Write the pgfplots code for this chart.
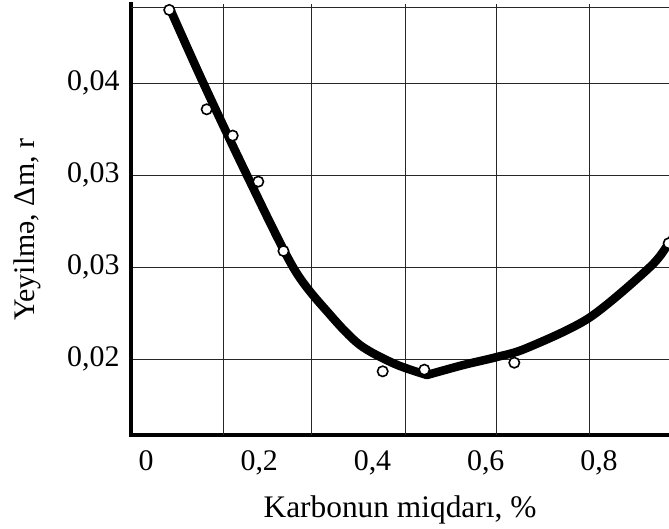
\documentclass[border=0pt]{standalone}
\usepackage{fontspec}
\setmainfont{Liberation Serif}
\usepackage{pgfplots}
\pgfplotsset{compat=1.18}

\begin{document}
\begin{tikzpicture}
\begin{axis}[
  scale only axis, width=538bp, height=431bp,
  xmin=-0.02649, xmax=0.92362, ymin=0.02087, ymax=0.044293,
  axis lines=left,
  axis line style={-, line width=4bp, line cap=rect},
  scaled y ticks=false, scaled x ticks=false,
  xtick={0,0.2,0.4,0.6,0.8}, xticklabels={0,{0,2},{0,4},{0,6},{0,8}},
  ytick={0.025,0.03,0.035,0.04}, yticklabels={{0,02},{0,03},{0,03},{0,04}},
  major tick length=0pt,
  ymajorgrids=true, xmajorgrids=false,
  extra x ticks={0.1360,0.2914,0.4574,0.6181,0.7823},
  extra x tick style={xmajorgrids=true, xticklabel={}},
  extra y ticks={0.04413},
  extra y tick style={yticklabel={}},
  grid style={black!85, line width=0.9bp},
  tick label style={font=\fontsize{30}{36}\selectfont},
  xticklabel style={anchor=base, yshift=-35bp},
  yticklabel style={xshift=-8bp},
  xlabel={Karbonun miqdarı, \%},
  xlabel style={at={(axis description cs:0.5,-0.1903)}, anchor=base,
    font=\fontsize{31.5}{38}\selectfont},
  ylabel={Yeyilmə, Δm, r},
  ylabel style={at={(axis description cs:-0.1933,0.476)}, anchor=center,
    font=\fontsize{30}{36}\selectfont},
  clip=true,
]
% fitted curve, two branches meeting at the minimum
\addplot[black, line width=8.5bp, smooth, line cap=round] coordinates {
(0.0433,0.04397)(0.1012,0.04000)(0.1789,0.03495)(0.2614,0.02990)
(0.3249,0.02741)(0.3779,0.02576)(0.4396,0.02473)(0.4962,0.02413)};
\addplot[black, line width=8.5bp, smooth, line cap=round] coordinates {
(0.4962,0.02413)(0.5598,0.02467)(0.6199,0.02511)(0.6728,0.02560)(0.7823,0.02723)
(0.8901,0.03000)(0.9236,0.03130)(0.9340,0.03174)};
% measured points
\addplot[only marks, mark=*, mark size=5.2bp,
  mark options={fill=white, draw=black, line width=1.6bp}] coordinates {
(0.0411,0.04397)(0.1072,0.03857)(0.1531,0.03714)(0.1983,0.03464)(0.2428,0.03087)
(0.4180,0.02433)(0.4915,0.02442)(0.6504,0.02480)(0.9230,0.03129)};
\end{axis}
\pgfresetboundingbox
\path ([xshift=-131bp,yshift=-94bp]current axis.south west)
  rectangle ([yshift=4bp]current axis.north east);
\end{tikzpicture}
\end{document}
